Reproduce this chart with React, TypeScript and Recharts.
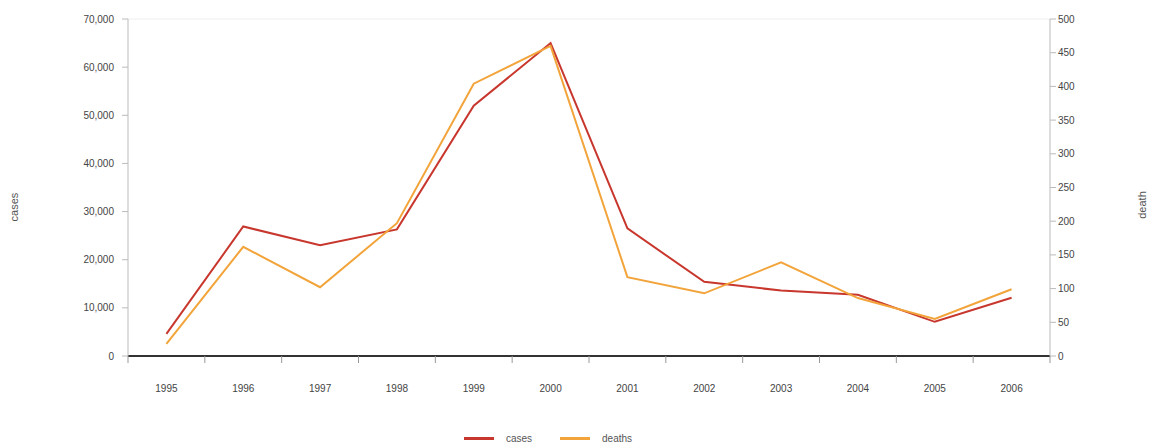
import { LineChart, Line, XAxis, YAxis, CartesianGrid, Legend } from "recharts";

const years = ["1995", "1996", "1997", "1998", "1999", "2000", "2001", "2002", "2003", "2004", "2005", "2006"];
const cases = [4600, 26900, 23000, 26300, 52000, 65000, 26500, 15400, 13600, 12700, 7100, 12100];
const deaths = [18, 162, 102, 197, 404, 460, 117, 93, 139, 86, 55, 99];
const casesTicks = [0, 10000, 20000, 30000, 40000, 50000, 60000, 70000];
const deathTicks = [0, 50, 100, 150, 200, 250, 300, 350, 400, 450, 500];

const data = years.map((year, i) => ({ year, cases: cases[i], deaths: deaths[i] }));

const W = 1154;
const H = 448;
const LEFT_W = 128;
const RIGHT_W = 104;
const BAND = (W - LEFT_W - RIGHT_W) / years.length;
const FONT = "'Liberation Sans', Arial, sans-serif";
const RED = "#c8372d";
const ORANGE = "#f2a43a";

function YearTick(props: any) {
  const { x, y, payload, index } = props;
  const last = index === years.length - 1;
  return (
    <g>
      <line x1={x - BAND / 2} x2={x - BAND / 2} y1={y} y2={y + 7} stroke="#999" />
      {last && <line x1={x + BAND / 2} x2={x + BAND / 2} y1={y} y2={y + 7} stroke="#999" />}
      <text x={x} y={y + 36} textAnchor="middle" fontSize={10} fill="#444" fontFamily={FONT}>
        {payload.value}
      </text>
    </g>
  );
}

// axis titles sit far out at the chart edges, so place them by hand
function AxisTitle({ cx, cy, text }: { cx: number; cy: number; text: string }) {
  return (
    <text
      x={cx}
      y={cy}
      transform={`rotate(-90 ${cx} ${cy})`}
      textAnchor="middle"
      dominantBaseline="central"
      fontSize={11}
      fill="#555"
      fontFamily={FONT}
    >
      {text}
    </text>
  );
}

function LegendBox() {
  const item = (color: string, label: string) => (
    <span style={{ display: "inline-flex", alignItems: "center", margin: "0 14px" }}>
      <span style={{ display: "inline-block", width: 30, height: 3, background: color, marginRight: 12 }} />
      <span style={{ fontSize: 10, color: "#555", fontFamily: FONT }}>{label}</span>
    </span>
  );
  return (
    <div style={{ height: 20, display: "flex", justifyContent: "center", alignItems: "center", paddingRight: 58 }}>
      {item(RED, "cases")}
      {item(ORANGE, "deaths")}
    </div>
  );
}

export default function App() {
  return (
    <div style={{ position: "absolute", left: 0, top: 0, background: "#fff" }}>
      <LineChart width={W} height={H} data={data} margin={{ top: 19, right: 0, bottom: 0, left: 0 }}>
        <CartesianGrid vertical={false} stroke="#eeeeee" />
        <XAxis
          dataKey="year"
          scale="band"
          height={72}
          tickSize={0}
          tickMargin={0}
          tick={<YearTick />}
          axisLine={{ stroke: "#333", strokeWidth: 2 }}
          interval={0}
        />
        <YAxis
          yAxisId="cases"
          width={LEFT_W}
          domain={[0, 70000]}
          ticks={casesTicks}
          tickFormatter={(v: number) => v.toLocaleString("en-US")}
          tick={{ fontSize: 10, fill: "#444", fontFamily: FONT }}
          tickMargin={8}
          axisLine={{ stroke: "#bbb" }}
          tickLine={{ stroke: "#bbb" }}
          label={<AxisTitle cx={14} cy={207} text="cases" />}
        />
        <YAxis
          yAxisId="deaths"
          orientation="right"
          width={RIGHT_W}
          domain={[0, 500]}
          ticks={deathTicks}
          tick={{ fontSize: 10, fill: "#444", fontFamily: FONT }}
          axisLine={{ stroke: "#bbb" }}
          tickLine={{ stroke: "#bbb" }}
          label={<AxisTitle cx={1142} cy={205} text="death" />}
        />
        <Legend verticalAlign="bottom" content={<LegendBox />} />
        <Line yAxisId="cases" dataKey="cases" stroke={RED} strokeWidth={2} dot={false} isAnimationActive={false} />
        <Line yAxisId="deaths" dataKey="deaths" stroke={ORANGE} strokeWidth={2} dot={false} isAnimationActive={false} />
      </LineChart>
    </div>
  );
}
